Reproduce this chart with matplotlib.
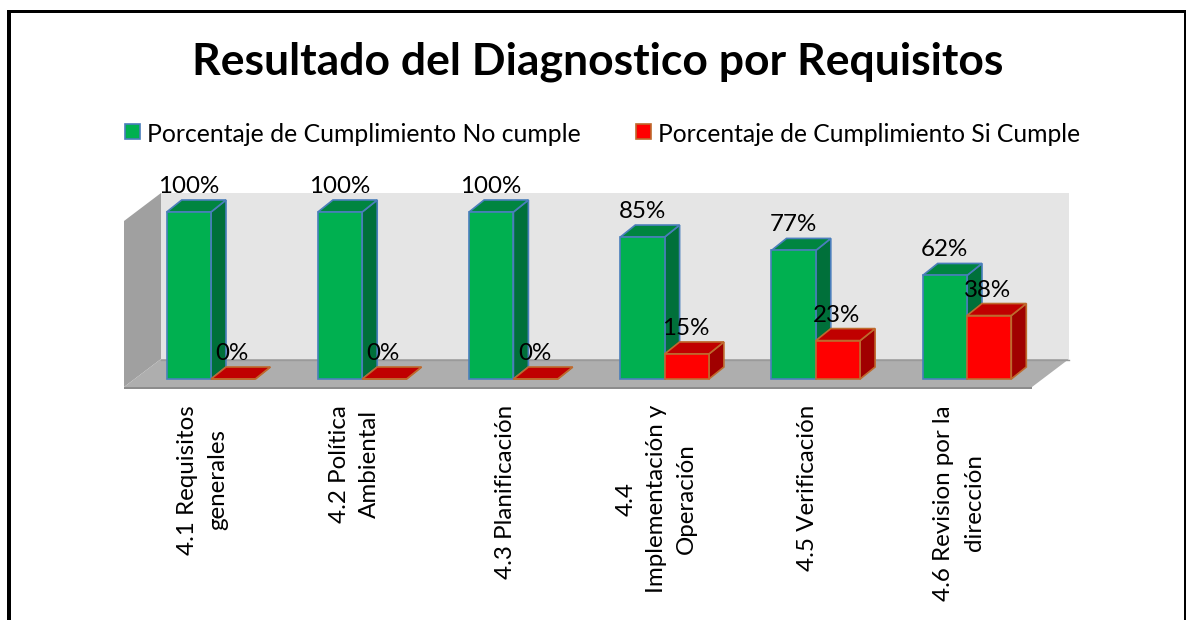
import matplotlib
matplotlib.use("Agg")
import matplotlib.pyplot as plt
from matplotlib.patches import Polygon, Rectangle

categories = ["4.1 Requisitos\ngenerales", "4.2 Política\nAmbiental", "4.3 Planificación",
              "4.4\nImplementación y\nOperación", "4.5 Verificación", "4.6 Revision por la\ndirección"]
no_cumple = [100, 100, 100, 85, 77, 62]
si_cumple = [0, 0, 0, 15, 23, 38]
series_names = ["Porcentaje de Cumplimiento No cumple", "Porcentaje de Cumplimiento Si Cumple"]
title = "Resultado del Diagnostico por Requisitos"

W, H = 1188, 620
FONT = "Lato"
plt.rcParams["font.family"] = [FONT, "DejaVu Sans"]
fig = plt.figure(figsize=(W / 100, H / 100), dpi=100, facecolor="white")
ax = fig.add_axes([0, 0, 1, 1])

# scales: category index -> px and percent -> px
X0, STEP = 211.0, 151.2
Y0, PX_PER = 379.0, 1.67
ax.set_xlim((0 - X0) / STEP, (W - X0) / STEP)
ax.set_ylim((Y0 - H) / PX_PER, Y0 / PX_PER)
ax.axis("off")

def xd(px): return (px - X0) / STEP
def yd(py): return (Y0 - py) / PX_PER
def poly(pts, **kw):
    ax.add_patch(Polygon([(xd(a), yd(b)) for a, b in pts], closed=True, **kw))

# frame (open at the bottom)
poly([(6.5, 9.5), (1186, 9.5), (1186, 620), (1183.5, 620), (1183.5, 12.5), (11, 12.5), (11, 620), (6.5, 620)],
     fc="black", ec="none", zorder=1)

# walls and floor
poly([(161, 193), (1069, 193), (1069, 359), (161, 359)], fc="#E5E5E5", ec="none", zorder=2)
poly([(124, 221), (161, 193), (161, 359), (124, 387)], fc="#A0A0A0", ec="none", zorder=2)
poly([(124, 387), (161, 359), (1069, 359), (1032, 387)], fc="#AEAEAE", ec="none", zorder=2)
poly([(124, 387), (1032, 387), (1032, 388.5), (124, 388.5)], fc="#8C8C8C", ec="none", zorder=2)
ax.plot([xd(161), xd(1069)], [yd(359.5), yd(359.5)], color="#9A9A9A", lw=1, zorder=2)

DX, DY = 15 / STEP, 12 / PX_PER
BW = 44.3 / STEP

def bar3d(x_left, val, front, side, top, edge, z):
    x_r = x_left + BW
    ax.add_patch(Polygon([(x_r, 0), (x_r + DX, DY), (x_r + DX, val + DY), (x_r, val)],
                         fc=side, ec=edge, lw=1.2, zorder=z))
    ax.add_patch(Polygon([(x_left, val), (x_r, val), (x_r + DX, val + DY), (x_left + DX, val + DY)],
                         fc=top, ec=edge, lw=1.2, zorder=z))
    ax.add_patch(Rectangle((x_left, 0), BW, val, fc=front, ec=edge, lw=1.2, zorder=z))

GREEN = ("#00B050", "#00703A", "#008540", "#4A7EBB")
RED = ("#FF0000", "#A00000", "#C00000", "#BE6A2E")
LBL = 17.4
for i, (g, r) in enumerate(zip(no_cumple, si_cumple)):
    bar3d(i - BW, g, *GREEN, 4 + i)
    bar3d(i, r, *RED, 4.5 + i)
    ax.text(i - BW + 22 / STEP, g + 19 / PX_PER, f"{g}%", ha="center", va="baseline",
            fontsize=LBL, color="black", zorder=20)
    ax.text(i + 21 / STEP, r + 19 / PX_PER, f"{r}%", ha="center", va="baseline",
            fontsize=LBL, color="black", zorder=20)
    ax.text(i - 8 / STEP, yd(405), categories[i], rotation=90, ha="center", va="top",
            multialignment="center", fontsize=LBL, color="black", linespacing=1.53, zorder=20)

# title
ax.text(xd(597.5), yd(62), title, ha="center", va="center", fontsize=32, fontweight="bold", color="black", zorder=20)

# legend
ax.add_patch(Rectangle((xd(125), yd(139)), 15 / STEP, 15 / PX_PER, fc=GREEN[0], ec=GREEN[3], lw=1.2, zorder=20))
ax.text(xd(147), yd(134), series_names[0], ha="left", va="center", fontsize=17.8, zorder=20)
ax.add_patch(Rectangle((xd(636), yd(139)), 15 / STEP, 15 / PX_PER, fc=RED[0], ec=RED[3], lw=1.2, zorder=20))
ax.text(xd(658), yd(134), series_names[1], ha="left", va="center", fontsize=17.7, zorder=20)

fig.savefig("out.png", dpi=100)
